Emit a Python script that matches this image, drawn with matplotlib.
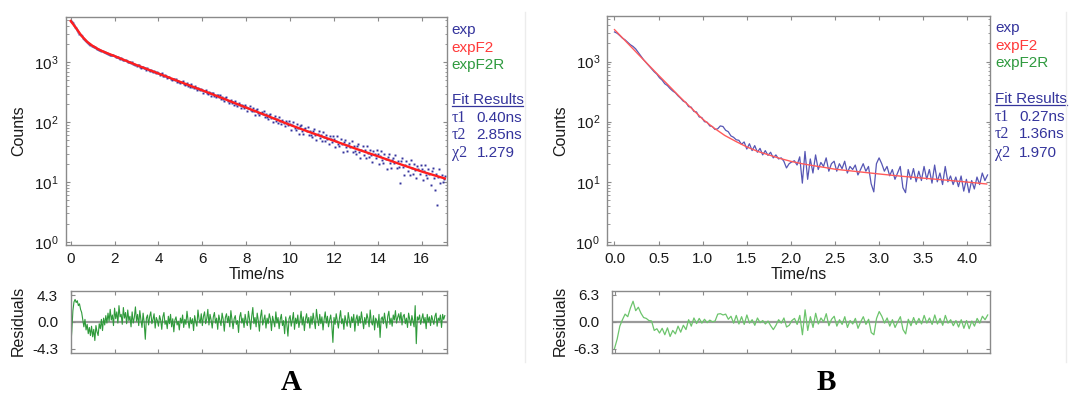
import numpy as np
import matplotlib
matplotlib.use("Agg")
import matplotlib.pyplot as plt
from matplotlib.ticker import LogLocator, NullFormatter
from matplotlib.lines import Line2D

plt.rcParams['font.family'] = ['Liberation Sans', 'DejaVu Sans']
plt.rcParams['mathtext.fontset'] = 'custom'
plt.rcParams['mathtext.rm'] = 'Liberation Sans'
plt.rcParams['mathtext.default'] = 'regular'

# ---------------- Panel A data ----------------
stepA = 0.05  # ns per plotted channel
expA = [
    4950, 4700, 4480, 4200, 3950, 3720, 3460, 3230, 3020, 2850, 2700, 2570, 2440, 2340, 2230, 2160, 2080, 2010, 1950, 1900,
    1860, 1810, 1770, 1740, 1700, 1660, 1630, 1590, 1560, 1530, 1500, 1490, 1450, 1440, 1395, 1390, 1350, 1340, 1300, 1300,
    1281, 1218, 1231, 1239, 1179, 1148, 1166, 1126, 1074, 1101, 1095, 1042, 1011, 1022, 1013, 978, 994, 931, 940, 905,
    876, 901, 906, 849, 810, 833, 842, 789, 801, 753, 799, 753, 724, 748, 713, 680, 709, 689, 662, 684,
    662, 609, 633, 653, 602, 581, 611, 580, 537, 575, 579, 534, 513, 533, 534, 507, 532, 476, 494, 466,
    450, 475, 484, 441, 413, 436, 447, 408, 422, 386, 428, 393, 373, 397, 372, 348, 375, 362, 344, 365,
    349, 310, 332, 350, 313, 299, 325, 303, 271, 304, 309, 276, 262, 280, 282, 263, 285, 243, 260, 240,
    229, 252, 260, 228, 206, 228, 239, 208, 221, 194, 230, 204, 189, 210, 191, 174, 197, 188, 175, 194,
    182, 154, 171, 186, 160, 151, 171, 156, 133, 159, 164, 140, 131, 145, 148, 135, 152, 122, 135, 121,
    115, 131, 138, 116, 102, 118, 126, 105, 115, 97, 122, 105, 95, 110, 98, 86, 104, 98, 89, 103,
    95, 74, 89, 101, 81, 75, 92, 81, 64, 85, 89, 71, 64, 77, 80, 70, 84, 61, 72, 62,
    57, 71, 77, 60, 50, 63, 70, 54, 62, 49, 69, 56, 49, 62, 52, 43.5, 58, 53, 47, 58,
    53, 38, 49, 58, 44, 39.5, 52, 44, 32, 47, 51, 38, 33, 42, 45, 38, 48, 32, 40, 33,
    29.5, 40, 44, 32, 25, 34.5, 40, 28.5, 35, 25, 40.5, 30.7, 26, 35, 28.5, 22, 33, 30, 25.3, 34,
    29.6, 19.8, 27, 33, 23.8, 21, 29.4, 24.3, 16.3, 26.6, 29, 20.7, 17.5, 23.6, 25.4, 20.9, 28, 16.9, 22.6, 17.7,
    9.5, 22.5, 25.5, 17.9, 12.9, 19.3, 22.9, 15.6, 19.7, 13.3, 23.4, 17.1, 13.9, 20.1, 15.8, 11.6, 18.7, 16.8, 13.8, 19.5,
    16.6, 10.7, 15.1, 19.1, 13.3, 11.6, 16.8, 13.8, 8.8, 15.3, 17.0, 11.7, 7.5, 13.7, 4.2, 12.1, 16.6, 9.6, 13.3, 10.2,
    11.1, 12.8,
]
fitA_t = [0, 0.25, 0.5, 0.75, 1.0, 1.25, 1.5, 2, 3, 4, 5, 6, 7, 8, 9, 10, 11, 12, 13, 14, 15, 16, 17.05]
fitA = [4900, 3700, 2750, 2200, 1880, 1660, 1500, 1270, 900, 650, 470, 340, 245, 175, 126, 90, 66, 49, 36, 27, 20, 15, 11.5]
resA = [
    -4.0, -1.5, 1.8, 3.2, 3.6, 3.1, 3.4, 2.6, 2.9, 2.0, 1.5, 0.3, -0.8, 0.4, -1.3, -0.4, -1.9, -0.9, -2.2, -0.7,
    -2.4, -1.2, -3.0, -0.6, -1.6, -2.2, -0.3, -1.1, 0.4, -1.4, 0.6, -0.5, 1.0, -0.2, 1.4, 0.1, 2.0, 0.3, 1.1, -0.6,
    2.2, 0.5, 1.6, -0.2, 2.6, 0.8, 1.2, -0.4, 2.3, 0.6, 1.5, -0.3, 1.9, 0.2, 0.9, -0.8, 1.6, -0.2, 0.7, 2.4,
    0.1, 1.2, -0.6, 1.8, 0.3, -0.9, 1.4, -0.2, -2.8, 0.6, 1.1, -0.5, 0.9, 1.6, -0.3, 0.4, 1.3, -1.0, 0.7, 0.2,
    -0.7, 1.0, 0.3, -1.2, 0.8, 1.5, -0.4, 0.2, -1.1, 0.9, -0.3, 1.2, -0.8, 0.5, -1.6, 0.3, 0.8, -0.5, 0.1, -1.3,
    0.6, -0.2, 1.1, -0.9, 0.4, -0.4, 1.7, 0.2, -1.0, 0.7, -0.3, 0.5, -1.4, 1.0, 0.0, -0.7, 1.9, 0.4, -0.2, 1.3,
    -0.6, 0.9, 1.6, -0.3, 0.5, 2.0, -0.5, 1.2, 0.3, -1.0, 0.8, 1.5, -0.2, 0.6, -1.2, 1.1, 0.2, -0.6, 1.4, 0.4,
    -1.5, 0.7, 1.3, -0.1, 0.9, -0.8, 1.8, 0.3, -1.1, 0.5, 1.0, -0.4, 0.2, -1.7, 0.8, 1.5, -0.2, 0.6, -0.9, 1.2,
    0.1, -0.6, 1.7, 0.4, -1.2, 0.9, 2.3, -0.3, 0.7, -0.8, 1.4, 0.2, -1.5, 0.8, 1.9, -0.5, 0.3, 1.1, -1.0, 0.6,
    -0.3, 1.3, 0.5, -1.4, 0.9, 0.1, -0.8, 1.6, -0.2, 0.7, -1.1, 0.4, 1.2, -0.6, 0.2, -1.9, 0.8, -0.4, -2.3, 0.5,
    1.0, -0.7, 0.3, 1.5, -1.2, 0.6, -0.3, 1.1, -0.9, 0.2, 1.7, -0.5, 0.8, -1.4, 0.4, 1.3, -0.2, 0.7, -1.0, 0.9,
    -0.4, 1.4, 0.1, -1.1, 2.0, 0.5, -0.6, 1.2, -0.3, 0.8, -1.3, 0.4, 1.6, -0.2, 0.9, -0.8, 0.3, 1.1, -0.5, -3.3,
    0.7, -0.4, 1.3, 0.2, -1.0, 0.6, 1.8, -0.3, 0.5, -1.2, 1.0, 0.1, -0.7, 1.5, 0.3, -0.9, 0.8, -0.1, 1.2, -1.5,
    0.4, 1.1, -0.6, 0.9, -0.2, 1.6, 0.2, -1.1, 0.7, -0.4, 1.3, 0.5, -0.8, 1.9, 0.0, -0.5, 1.0, -1.3, 0.6, 0.2,
    -0.9, 1.2, -2.5, 0.5, 0.8, -0.3, 1.4, 0.1, -1.0, 0.9, 1.7, -0.4, 0.6, -0.7, 1.1, 0.3, 1.8, -0.2, 0.7, 1.3,
    0.2, 1.5, -0.5, 0.9, 1.2, -0.3, 0.6, -0.9, 1.4, 0.4, -0.6, 1.0, 0.1, -0.8, 2.6, -3.5, 0.8, 0.3, 1.1, -0.4,
    0.5, 1.3, -0.2, 0.7, -1.1, 1.2, 0.0, 0.8, -0.6, 1.0, 0.3, -0.4, 0.9, 1.4, -0.7, 0.6, 0.2, 1.1, -0.9, 1.2,
    0.4, 1.0,
]
xticksA = [0, 2, 4, 6, 8, 10, 12, 14, 16]
resticksA = [-4.3, 0.0, 4.3]
fitlabelsA = ["0.40ns", "2.85ns", "1.279"]

# ---------------- Panel B data ----------------
stepB = 0.03
expB = [
    3100, 2950, 2700, 2450, 2290, 2090, 1900, 1780, 1620, 1410,
    1230, 1070, 955, 850, 760, 676, 617, 537, 490, 427,
    398, 355, 324, 302, 269, 245, 219, 209, 178, 174,
    148, 145, 120, 117, 100, 98, 85, 83, 74, 76,
    85, 83, 72, 68, 58, 55, 50, 49, 42, 46,
    35, 43, 33, 40, 31, 36, 28, 33, 27.5, 31,
    25, 28, 24, 25, 22, 17, 20, 21.4, 22.4, 19,
    26, 9.5, 32, 11, 24, 14, 28, 16, 21, 18,
    25, 15, 20, 22, 15, 20, 16.5, 22, 14, 18,
    16, 19, 13, 16, 20, 15, 18, 9.3, 6.8, 20,
    25, 20, 15, 18, 12.6, 16, 11, 14, 18, 8,
    6.6, 16, 11, 16.6, 10, 15, 10.5, 18, 11, 16,
    9.5, 19, 10, 14, 9, 18, 10, 12.5, 9, 12,
    8.3, 12.5, 7, 11, 6.6, 10.5, 7.6, 12, 9, 14,
    10.5, 13,
]
fitB_t = [0, 0.125, 0.25, 0.375, 0.5, 0.625, 0.75, 0.875, 1.0, 1.125, 1.25, 1.375, 1.5, 1.625,
          1.75, 1.875, 2.0, 2.125, 2.25, 2.375, 2.5, 2.75, 3.0, 3.25, 3.5, 3.75, 4.0, 4.22]
fitB = [3390, 2190, 1410, 910, 590, 385, 250, 166, 110, 79, 59, 47, 38, 32,
        28, 24.5, 21.9, 20, 18.6, 17.4, 16.2, 14.8, 13.5, 12.4, 11.5, 10.7, 9.9, 9.2]
resB = [
    -6.2, -4.0, -1.0, 0.5, 1.8, 1.2, 3.2, 4.8, 2.6, 3.4,
    2.0, 1.0, 0.8, 0.3, 0.2, -2.0, -1.6, -2.6, -1.5, -3.0,
    -1.4, -3.4, -2.0, -2.8, -1.0, -2.4, -0.8, -1.8, 0.5, -1.0,
    0.9, -0.4, 0.8, -0.3, 0.6, -0.2, 0.4, 0.0, 0.2, 1.8,
    1.9, 1.6, 1.8, 0.6, 1.3, -0.3, 1.5, -0.5, 1.2, -0.6,
    1.6, -0.3, 0.5, -0.8, 0.9, -0.2, 0.3, -0.5, 0.2, -0.9,
    -1.8, -0.8, 0.5, -0.3, 0.9, -1.2, -0.8, 0.3, 0.8, -0.6,
    1.5, -3.0, 2.8, -2.0, 1.2, -1.3, 2.0, -0.5, 0.9, 0.0,
    1.9, -0.9, 0.6, 1.3, -1.0, 0.5, -0.6, 1.2, -1.3, 0.3,
    -0.5, 0.8, -1.5, 0.0, 1.2, -0.6, 0.6, -2.5, -3.0, 0.8,
    2.4, 1.3, -0.3, 0.9, -1.0, 0.5, -1.3, 0.0, 1.2, -1.8,
    -2.8, 0.6, -0.9, 1.0, -0.6, 0.8, -0.5, 1.5, -0.3, 0.9,
    -0.6, 1.6, -0.5, 0.8, -0.8, 1.5, -0.3, 0.5, -0.9, 0.3,
    -1.2, 0.5, -1.5, 0.3, -1.6, 0.2, -1.0, 0.8, -0.3, 1.3,
    0.5, 1.6,
]
xticksB = [0.0, 0.5, 1.0, 1.5, 2.0, 2.5, 3.0, 3.5, 4.0]
resticksB = [-6.3, 0.0, 6.3]
fitlabelsB = ["0.27ns", "1.36ns", "1.970"]

legend_names = ["exp", "expF2", "expF2R"]
fit_symbols = ["\u03c41", "\u03c42", "\u03c72"]

# ---------------- styling ----------------
W, H = 1069, 417
BLUE = '#34349c'
BLUE_B = '#5656b4'
RED = '#ff1e1e'
RED_B = '#ff5a5a'
GREEN = '#2e9a3a'
GREEN_B = '#6cc46c'
GREENTXT = '#2f9a3f'
SPINE = '#8a8a8a'
TXT = '#1a1a1a'

fig = plt.figure(figsize=(W / 100, H / 100), dpi=100)


def rect(l, t, r, b):
    return [l / W, 1 - b / H, (r - l) / W, (b - t) / H]


def vlabel(x, y, s):
    fig.text(x / W, 1 - y / H, s, rotation=90, ha='center', va='center',
             fontsize=11.5, color=TXT)


def style_common(ax):
    for s in ax.spines.values():
        s.set_color(SPINE)
        s.set_linewidth(1.0)
    ax.tick_params(which='both', direction='in', top=True, right=True,
                   color=SPINE, labelcolor=TXT, labelsize=11)
    ax.tick_params(which='major', length=3, width=0.8)
    ax.tick_params(which='minor', length=1.8, width=0.6)


def style_main(ax, xticks, xfmt, xlim):
    style_common(ax)
    ax.set_yscale('log')
    ax.set_ylim(0.89, 5710)
    ax.set_xlim(*xlim)
    ax.yaxis.set_minor_locator(LogLocator(base=10, subs=np.arange(2, 10), numticks=10))
    ax.yaxis.set_minor_formatter(NullFormatter())
    ax.set_yticks([1, 10, 100, 1000])
    ax.set_yticklabels([r'$10^{0}$', r'$10^{1}$', r'$10^{2}$', r'$10^{3}$'])
    ax.set_xticks(xticks)
    ax.set_xticklabels([xfmt.format(v) for v in xticks])
    ax.tick_params(axis='y', which='major', pad=5)
    ax.tick_params(axis='x', which='major', pad=5)
    ax.set_xlabel('Time/ns', fontsize=11.5, color=TXT, labelpad=1)


def style_res(ax, xticks, xlim, yticks, ylim):
    style_common(ax)
    ax.set_xlim(*xlim)
    ax.set_ylim(-ylim, ylim)
    ax.set_xticks(xticks)
    ax.set_xticklabels([])
    ax.set_yticks(yticks)
    ax.set_yticklabels(['{:.1f}'.format(v) for v in yticks])
    ax.tick_params(axis='y', pad=9)
    ax.axhline(0, color='#9a9a9a', lw=1.6, zorder=1)


# Panel A
axA = fig.add_axes(rect(65.7, 17, 447, 245))
rA = fig.add_axes(rect(70.7, 290.7, 447, 353))
tA = np.arange(len(expA)) * stepA
axA.plot(tA, expA, ls='none', marker='s', ms=1.4, mfc=BLUE, mec='none', zorder=2)
axA.plot(fitA_t, fitA, color=RED, lw=1.7, zorder=3)
style_main(axA, xticksA, '{:d}', (-0.228, 17.15))
tRA = np.arange(len(resA)) * stepA
rA.plot(tRA, resA, color=GREEN, lw=0.8, zorder=2)
style_res(rA, xticksA, (0, 17.15), resticksA, 5.0)
vlabel(18.5, 131, 'Counts')
vlabel(18, 321, 'Residuals')

# Panel B
axB = fig.add_axes(rect(607, 16, 989.5, 245))
rB = fig.add_axes(rect(611.7, 290.7, 990, 353))
tB = np.arange(len(expB)) * stepB
axB.plot(tB, expB, color=BLUE_B, lw=0.9, zorder=2)
axB.plot(fitB_t, fitB, color=RED_B, lw=1.0, zorder=3)
style_main(axB, xticksB, '{:.1f}', (-0.085, 4.252))
tRB = np.arange(len(resB)) * stepB
rB.plot(tRB, resB, color=GREEN_B, lw=0.9, zorder=2)
style_res(rB, xticksB, (-0.032, 4.256), resticksB, 7.25)
vlabel(561, 131, 'Counts')
vlabel(560, 321, 'Residuals')


# Legends / fit results
def ftext(x, y, s, **kw):
    return fig.text(x / W, 1 - y / H, s, va='center', ha='left', fontsize=11, **kw)


def legend_block(x0, xval, ys, fitvals):
    cols = [BLUE, '#ff3a3a', GREENTXT]
    for name, c, y in zip(legend_names, cols, ys[:3]):
        ftext(x0, y, name, color=c)
    fr = ftext(x0, ys[3], 'Fit Results', color=BLUE)
    for sym, val, y in zip(fit_symbols, fitvals, ys[4:]):
        fig.text(x0 / W, 1 - y / H, sym, va='center', ha='left', fontsize=11.5, color=BLUE,
                 family=['Liberation Serif', 'DejaVu Serif'])
        ftext(xval, y, val, color=BLUE)
    return fr


frA = legend_block(451.5, 476.5, [30, 48, 65, 100, 117.5, 135, 153], fitlabelsA)
frB = legend_block(995, 1019, [28, 46, 63, 99, 117, 134.5, 153], fitlabelsB)

fig.canvas.draw()
ren = fig.canvas.get_renderer()
for fr in (frA, frB):
    bb = fr.get_window_extent(ren)
    yl = bb.y0 + 1.5
    fig.add_artist(Line2D([bb.x0 / W, bb.x1 / W], [yl / H, yl / H], color=BLUE, lw=0.9))

# panel letters
fig.text(291 / W, 1 - 383 / H, 'A', ha='center', va='center', fontsize=21, fontweight='bold',
         family=['Liberation Serif', 'DejaVu Serif'], color='black')
fig.text(826 / W, 1 - 383 / H, 'B', ha='center', va='center', fontsize=21, fontweight='bold',
         family=['Liberation Serif', 'DejaVu Serif'], color='black')

# faint frame edges from the original image
for xe in (525, 1066):
    fig.add_artist(Line2D([xe / W, xe / W], [1 - 12 / H, 1 - 362 / H], color='#ececec', lw=1.0))

fig.savefig('out.png', dpi=100)
